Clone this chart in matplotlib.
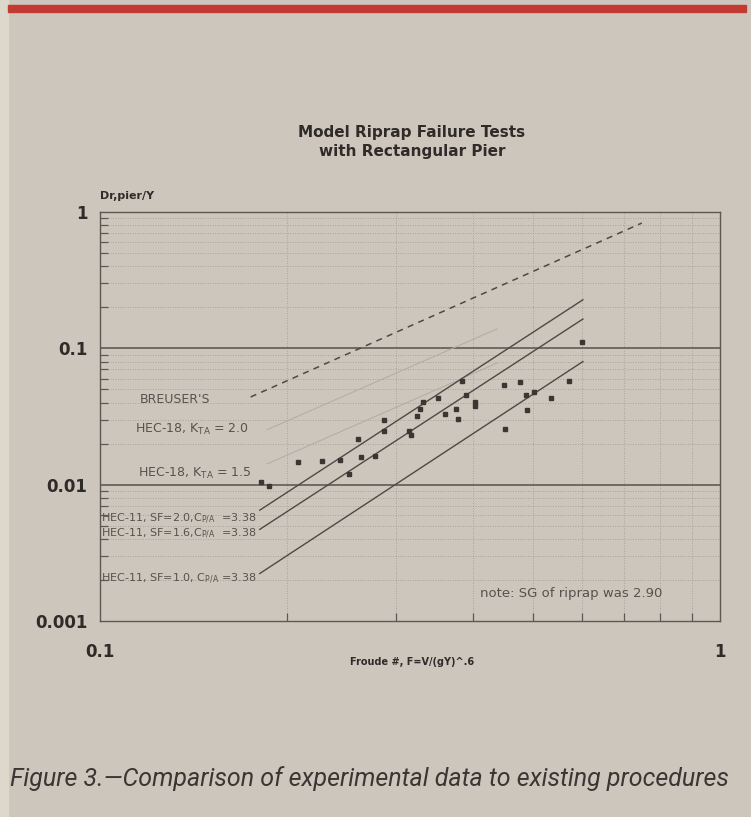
import matplotlib.pyplot as plt
from matplotlib.ticker import FixedLocator, FixedFormatter, NullFormatter
from matplotlib.patches import Rectangle

# measured points: Froude number vs Dr,pier/Y
froude = [0.182, 0.187, 0.209, 0.228, 0.244, 0.252, 0.261, 0.264, 0.278, 0.287,
          0.287, 0.315, 0.317, 0.325, 0.328, 0.332, 0.351, 0.360, 0.375, 0.378,
          0.384, 0.389, 0.403, 0.403, 0.448, 0.450, 0.476, 0.487, 0.488, 0.501,
          0.534, 0.571, 0.599]
dr_y = [0.0105, 0.0097, 0.0146, 0.0148, 0.0151, 0.0119, 0.0215, 0.0159, 0.0161, 0.0298,
        0.0247, 0.0247, 0.0231, 0.0319, 0.0359, 0.0405, 0.0434, 0.0330, 0.0359, 0.0303,
        0.0579, 0.0456, 0.0405, 0.0378, 0.0541, 0.0256, 0.0570, 0.0456, 0.0353, 0.0480,
        0.0434, 0.0579, 0.1108]

# design curves (end points)
breuser_x = [0.175, 0.748]
breuser_y = [0.044, 0.83]
hec18_x = [0.186, 0.437]
hec18_k20 = [0.0253, 0.139]
hec18_k15 = [0.0142, 0.078]
hec11_x = [0.181, 0.601]
hec11_sf20 = [0.0065, 0.227]
hec11_sf16 = [0.0047, 0.164]
hec11_sf10 = [0.00223, 0.080]

y_ticks = [1, 0.1, 0.01, 0.001]
y_labels = ['1', '0.1', '0.01', '0.001']
x_ticks = [0.1, 1]
x_labels = ['0.1', '1']

paper = '#cdc6bd'
ink = '#4e4944'
grid = '#9f978f'

fig = plt.figure(figsize=(7.51, 8.17), dpi=100, facecolor=paper)
fig.add_artist(Rectangle((0, 0), 0.011, 1, transform=fig.transFigure,
                         color='#dcd8cc', zorder=0))
fig.add_artist(Rectangle((0.011, 1 - 12 / 817), 0.982, 7 / 817, transform=fig.transFigure,
                         color='#c23a32', zorder=1))

ax = fig.add_axes([100 / 751, 1 - 621 / 817, 620 / 751, 409 / 817])
ax.set_facecolor('none')
ax.set_xscale('log')
ax.set_yscale('log')
ax.set_xlim(0.1, 1)
ax.set_ylim(0.001, 1)

# сетка
ax.grid(which='minor', ls=(0, (1, 2)), color=grid, lw=0.6)
for v in [0.1, 0.01]:
    ax.axhline(v, color='#615b55', lw=1.2)

ax.plot(breuser_x, breuser_y, ls=(0, (4, 3.5)), color=ink, lw=1.1)
ax.plot(hec18_x, hec18_k20, color='#b3aba2', lw=0.7)
ax.plot(hec18_x, hec18_k15, color='#b3aba2', lw=0.7)
ax.plot(hec11_x, hec11_sf20, color=ink, lw=1.0)
ax.plot(hec11_x, hec11_sf16, color=ink, lw=1.0)
ax.plot(hec11_x, hec11_sf10, color=ink, lw=1.0)
ax.plot(froude, dr_y, ls='none', marker='s', ms=3.2, color='#3a3633')

lbl = dict(color='#57524d', fontsize=9, va='center', ha='left')
ax.text(0.116, 0.0419, "BREUSER'S", **lbl)
ax.text(0.114, 0.0255, r'HEC-18, K$_{\rm TA}$ = 2.0', **lbl)
ax.text(0.115, 0.0121, r'HEC-18, K$_{\rm TA}$ = 1.5', **lbl)
ax.text(0.1005, 0.0056, r'HEC-11, SF=2.0,C$_{\rm P/A}$  =3.38', **dict(lbl, fontsize=8))
ax.text(0.1005, 0.00433, r'HEC-11, SF=1.6,C$_{\rm P/A}$  =3.38', **dict(lbl, fontsize=8))
ax.text(0.1005, 0.00205, r'HEC-11, SF=1.0, C$_{\rm P/A}$ =3.38', **dict(lbl, fontsize=8))
ax.text(0.41, 0.00158, 'note: SG of riprap was 2.90', **dict(lbl, fontsize=9.5))

for s in ax.spines.values():
    s.set_color('#5e5852')
    s.set_linewidth(1.0)

ax.yaxis.set_major_locator(FixedLocator(y_ticks))
ax.yaxis.set_major_formatter(FixedFormatter(y_labels))
ax.xaxis.set_major_locator(FixedLocator(x_ticks))
ax.xaxis.set_major_formatter(FixedFormatter(x_labels))
ax.xaxis.set_minor_formatter(NullFormatter())
ax.yaxis.set_minor_formatter(NullFormatter())
ax.tick_params(which='major', length=0, labelsize=12, labelcolor='#2e2b28')
ax.tick_params(axis='y', which='major', pad=9)
ax.tick_params(axis='x', which='major', pad=16)
ax.tick_params(which='minor', direction='in', length=6, color='#5e5852', width=0.9)
for t in ax.get_xticklabels() + ax.get_yticklabels():
    t.set_fontweight('bold')

# подписи
fig.text(412 / 751, 1 - 142 / 817, 'Model Riprap Failure Tests\nwith Rectangular Pier',
         ha='center', va='center', fontsize=11, fontweight='bold', color='#2e2b28',
         linespacing=1.35)
fig.text(100 / 751, 1 - 196 / 817, 'Dr,pier/Y', ha='left', va='center',
         fontsize=8, fontweight='bold', color='#2e2b28')
fig.text(412 / 751, 1 - 662 / 817, 'Froude #, F=V/(gY)^.6', ha='center', va='center',
         fontsize=7, fontweight='bold', color='#2e2b28')
fig.text(10 / 751, 1 - 779 / 817, 'Figure 3.\u2014Comparison of experimental data to existing procedures',
         ha='left', va='center', fontsize=18, style='italic', color='#3a3633',
         family=['Roboto', 'DejaVu Sans'])

fig.savefig('out.png', dpi=100, facecolor=paper)
